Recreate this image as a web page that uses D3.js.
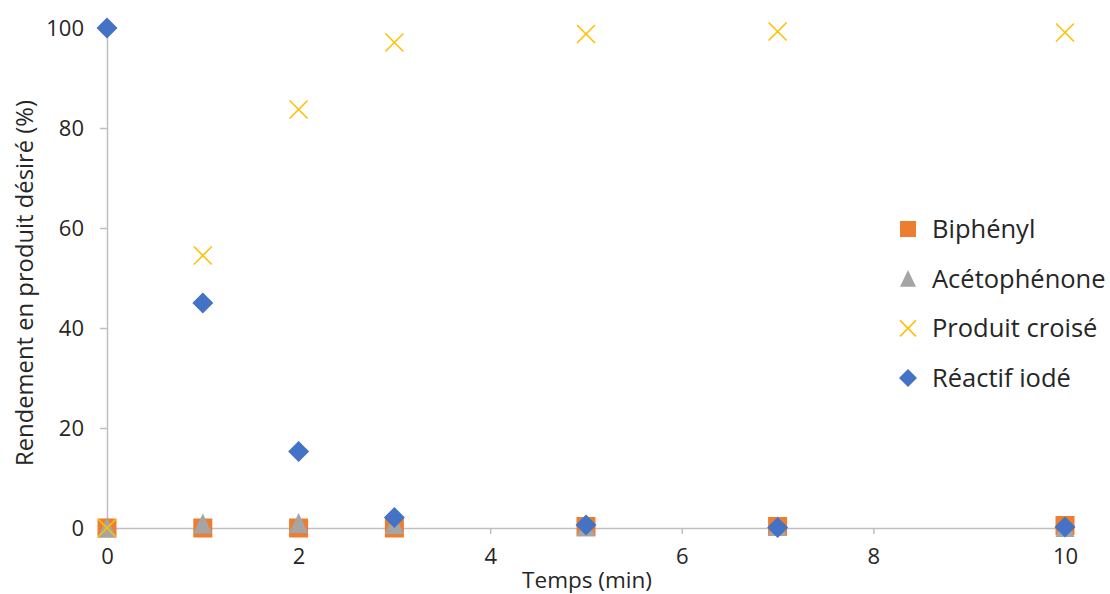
<!DOCTYPE html>
<html><head><meta charset="utf-8">
<script src="https://cdn.jsdelivr.net/npm/d3@7"></script>
<style>body{margin:0;background:#fff}svg{display:block}text{font-family:"Open Sans",sans-serif;fill:#262626}</style>
</head><body>
<script>
const times = [0, 1, 2, 3, 5, 7, 10];
const biphenyl = [0, 0, 0, 0, 0.3, 0.3, 0.5];
const acetophenone = [0, 0.8, 0.9, 0.7, 0.2, 0.3, 0.1];
const produitCroise = [0, 54.5, 83.7, 97.1, 98.8, 99.3, 99.1];
const reactifIode = [100, 45, 15.3, 2.1, 0.6, 0.1, 0.2];
const seriesNames = ["Biphényl", "Acétophénone", "Produit croisé", "Réactif iodé"];
const xTicks = [0, 2, 4, 6, 8, 10];
const yTicks = [0, 20, 40, 60, 80, 100];

const W = 1110, H = 594;
const svg = d3.select("body").append("svg").attr("width", W).attr("height", H);
const x = d3.scaleLinear().domain([0, 10]).range([107, 1065]);
const y = d3.scaleLinear().domain([0, 100]).range([528, 28]);
const axisColor = "#bfbfbf";

// axes
const gx = svg.append("g").attr("transform", `translate(0,${y(0)})`)
  .call(d3.axisBottom(x).tickValues(xTicks).tickSize(6).tickPadding(14).tickFormat(d3.format("d")));
const gy = svg.append("g").attr("transform", `translate(${x(0)},0)`)
  .call(d3.axisLeft(y).tickValues(yTicks).tickSize(7).tickPadding(16).tickFormat(d3.format("d")));
[gx, gy].forEach(g => {
  g.select(".domain").attr("stroke", axisColor).attr("stroke-width", 1.5);
  g.selectAll(".tick line").attr("stroke", axisColor).attr("stroke-width", 1.5);
  g.selectAll(".tick text").style("font-size", "22px").attr("fill", "#262626");
});
gx.selectAll(".tick text").attr("dy", "0.71em");

svg.append("text").attr("x", 587).attr("y", 588).attr("text-anchor", "middle")
  .style("font-size", "22.5px").text("Temps (min)");
svg.append("text").attr("transform", `translate(33,${283}) rotate(-90)`).attr("text-anchor", "middle")
  .style("font-size", "23.8px").text("Rendement en produit désiré (%)");

// marker shapes
function shape(type, s) {
  const h = s / 2;
  if (type === "square") return `M${-h},${-h}H${h}V${h}H${-h}Z`;
  if (type === "triangle") return `M0,${-s*0.55}L${h},${s*0.5}L${-h},${s*0.5}Z`;
  if (type === "diamond") return `M0,${-h}L${h},0L0,${h}L${-h},0Z`;
  return `M${-h},${-h}L${h},${h}M${h},${-h}L${-h},${h}`;
}
const series = [
  {name: seriesNames[0], vals: biphenyl, type: "square", color: "#ED7D31"},
  {name: seriesNames[1], vals: acetophenone, type: "triangle", color: "#A5A5A5"},
  {name: seriesNames[2], vals: produitCroise, type: "cross", color: "#FFC000"},
  {name: seriesNames[3], vals: reactifIode, type: "diamond", color: "#4472C4"}
];
const sizes = {square: 19, triangle: 19, cross: 18, diamond: 21};
series.forEach(s => {
  svg.append("g").selectAll("path").data(times.map((t, i) => [t, s.vals[i]])).join("path")
    .attr("transform", d => `translate(${x(d[0])},${y(d[1])})`)
    .attr("d", shape(s.type, sizes[s.type]))
    .attr("fill", s.type === "cross" ? "none" : s.color)
    .attr("stroke", s.type === "cross" ? s.color : "none")
    .attr("stroke-width", 1.6);
});

// legend
const leg = svg.append("g");
series.forEach((s, i) => {
  const cy = 229 + i * 49.7;
  leg.append("path").attr("transform", `translate(908,${cy})`)
    .attr("d", shape(s.type, s.type === "diamond" ? 18 : 16))
    .attr("fill", s.type === "cross" ? "none" : s.color)
    .attr("stroke", s.type === "cross" ? s.color : "none")
    .attr("stroke-width", 1.5);
  leg.append("text").attr("x", 932).attr("y", cy).attr("dy", "0.35em")
    .style("font-size", "25.5px").text(s.name);
});
</script>
</body></html>
